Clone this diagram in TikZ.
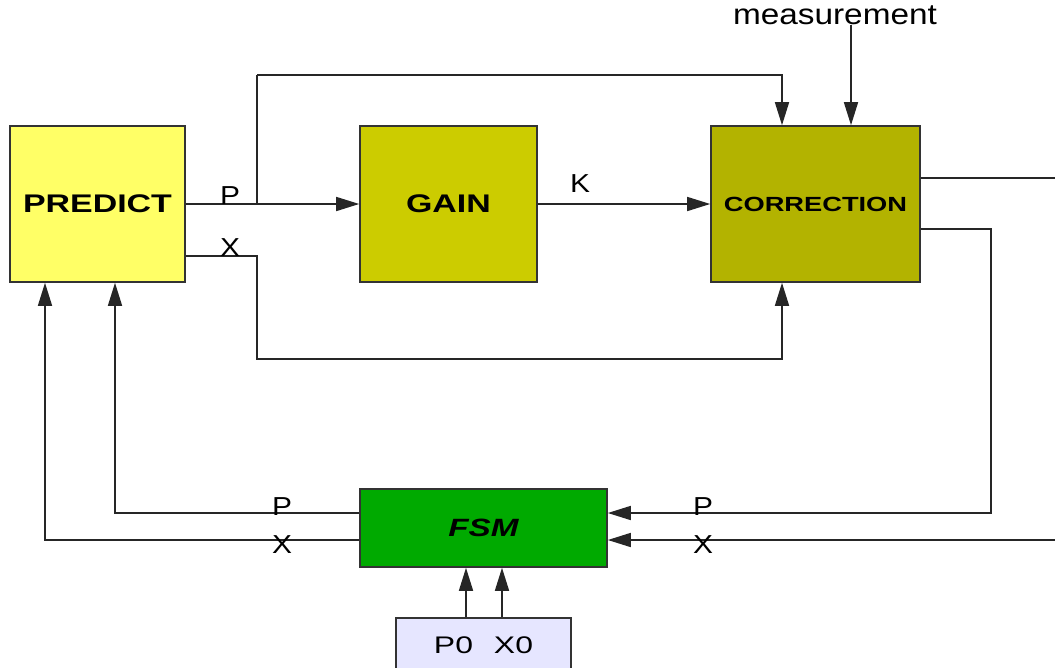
\documentclass[tikz,border=0pt]{standalone}
\usepackage{fontspec}
\setmainfont{Liberation Sans}
\newfontfamily\labelfont{Liberation Sans}[FakeStretch=1.15]
\newfontfamily\blockfont{Liberation Sans}[FakeStretch=1.33]
\usetikzlibrary{arrows.meta}
\definecolor{predictfill}{HTML}{FFFF66}
\definecolor{gainfill}{HTML}{CCCC00}
\definecolor{corrfill}{HTML}{B3B300}
\definecolor{fsmfill}{HTML}{00AA00}
\definecolor{initfill}{HTML}{E6E6FF}
\definecolor{edge}{HTML}{333333}

\begin{document}
\begin{tikzpicture}[x=1pt, y=-1pt,
  blockbox/.style={draw=edge, line width=1.6pt, inner sep=0pt,
    font=\blockfont\bfseries\fontsize{25.5}{30}\selectfont},
  sigarrow/.style={-{Triangle[length=23pt, width=14pt]}, line width=1.6pt, draw=black!85},
  sigline/.style={line width=1.6pt, draw=black!85},
  siglabel/.style={inner sep=0pt, font=\labelfont\fontsize{26}{30}\selectfont}
]
\useasboundingbox (0,0) rectangle (1055,667);
\node[blockbox, fill=predictfill, minimum width=175pt, minimum height=156pt] (predict) at (97.5,204) {PREDICT};
\node[blockbox, fill=gainfill, minimum width=177pt, minimum height=156pt] (gain) at (448.5,204) {GAIN};
\node[blockbox, fill=corrfill, minimum width=209pt, minimum height=156pt,
  font=\blockfont\bfseries\fontsize{20.5}{24}\selectfont] (correction) at (815.5,204) {CORRECTION};
\node[blockbox, fill=fsmfill, minimum width=247pt, minimum height=78pt,
  font=\blockfont\bfseries\itshape\fontsize{25}{30}\selectfont] (fsm) at (483.5,528) {FSM};
\node[blockbox, fill=initfill, minimum width=175pt, minimum height=54pt,
  font=\blockfont\fontsize{24}{28}\selectfont] (init) at (483.5,645) {P0\hspace{21pt}X0};
\node[siglabel, font=\labelfont\fontsize{29}{32}\selectfont] (meas) at (835,15) {measurement};

% helper points
\coordinate (ptap) at (257,204);
\coordinate (ptop) at (257,75);
\coordinate (xbend) at (257,359);
\coordinate (pbend) at (991,513);
\coordinate (pout) at (1065,178);
\coordinate (xin) at (1065,540);

% predict -> gain -> correction
\draw[sigarrow] (predict.east) -- (gain.west);
\draw[sigline] (ptap) -- (ptop);
\draw[sigarrow] (ptop) -| ([xshift=-33.5pt]correction.north);
\draw[sigarrow] ([yshift=-52pt]predict.east) -| (xbend) -| ([xshift=-33.5pt]correction.south);
\draw[sigarrow] (gain.east) -- (correction.west);
\draw[sigarrow] ([xshift=35.5pt]correction.north |- meas.south) -- ([xshift=35.5pt]correction.north);

% correction -> fsm
\draw[sigline] ([yshift=26pt]correction.east) -- (pout);
\draw[sigarrow] ([yshift=-25pt]correction.east) -| (pbend) -- ([yshift=15pt]fsm.east);
\draw[sigarrow] (xin) -- ([yshift=-12pt]fsm.east);

% fsm -> predict
\draw[sigarrow] ([yshift=15pt]fsm.west) -| ([xshift=17.5pt]predict.south);
\draw[sigarrow] ([yshift=-12pt]fsm.west) -| ([xshift=-52.5pt]predict.south);

% initial values
\draw[sigarrow] ([xshift=-17.5pt]init.north) -- ([xshift=-17.5pt]fsm.south);
\draw[sigarrow] ([xshift=18.5pt]init.north) -- ([xshift=18.5pt]fsm.south);

% signal names
\node[siglabel] (plab) at (230,196) {P};
\node[siglabel] (xlab) at (230,248) {X};
\node[siglabel] (klab) at (580,184) {K};
\node[siglabel] (pinlab) at (703,507) {P};
\node[siglabel] (xinlab) at (703,545) {X};
\node[siglabel] (poutlab) at (282,507) {P};
\node[siglabel] (xoutlab) at (282,545) {X};
\end{tikzpicture}
\end{document}
